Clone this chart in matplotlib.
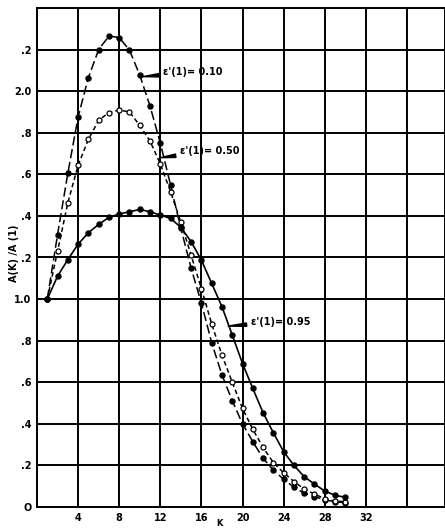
import matplotlib
matplotlib.use("Agg")
import matplotlib.pyplot as plt
import numpy as np

# K index and normalised amplitude A(K)/A(1) for the three emissivities
k = np.arange(1, 31)

a_010 = [1.00, 1.31, 1.605, 1.876, 2.065, 2.20, 2.265, 2.258, 2.197, 2.077,
         1.928, 1.75, 1.548, 1.34, 1.148, 0.98, 0.79, 0.635, 0.511, 0.40,
         0.314, 0.234, 0.178, 0.133, 0.095, 0.066, 0.05, 0.034, 0.026, 0.02]

a_050 = [1.00, 1.23, 1.463, 1.644, 1.768, 1.86, 1.897, 1.909, 1.90, 1.835,
         1.76, 1.65, 1.516, 1.37, 1.21, 1.05, 0.88, 0.73, 0.60, 0.474,
         0.373, 0.287, 0.213, 0.165, 0.122, 0.087, 0.062, 0.04, 0.028, 0.026]

a_095 = [1.00, 1.11, 1.19, 1.264, 1.319, 1.359, 1.393, 1.409, 1.42, 1.431,
         1.42, 1.404, 1.388, 1.345, 1.276, 1.187, 1.075, 0.963, 0.827, 0.69,
         0.57, 0.453, 0.357, 0.266, 0.20, 0.146, 0.11, 0.077, 0.056, 0.047]

labels = ["\u03b5'(1)= 0.10", "\u03b5'(1)= 0.50", "\u03b5'(1)= 0.95"]

xticks = [4, 8, 12, 16, 20, 24, 28, 32]
yticks = [0, 0.2, 0.4, 0.6, 0.8, 1.0, 1.2, 1.4, 1.6, 1.8, 2.0, 2.2]
ytick_labels = ["O", ".2", ".4", ".6", ".8", "1.0", ".2", ".4", ".6", ".8", "2.0", ".2"]

fig = plt.figure(figsize=(4.45, 5.29), dpi=100)
ax = fig.add_axes([37/445, 22/529, 1 - 37/445, 499/529])

ax.set_xlim(0, 39.7)
ax.set_ylim(0, 2.4)

# heavy hand-drawn style grid
for xv in np.arange(0, 40, 4):
    ax.axvline(xv, color="black", lw=1.4, zorder=1)
for yv in np.arange(0, 2.41, 0.2):
    ax.axhline(yv, color="black", lw=1.4, zorder=1)
for s in ax.spines.values():
    s.set_linewidth(1.4)

ax.plot(k, a_010, color="black", lw=1.1, ls=(0, (6, 2.5)),
        marker="o", ms=3.6, mfc="black", mec="black", zorder=3)
ax.plot(k, a_050, color="black", lw=1.1, ls=(0, (3, 2)),
        marker="o", ms=3.6, mfc="white", mec="black", mew=0.9, zorder=3)
ax.plot(k, a_095, color="black", lw=1.2, ls="-",
        marker="o", ms=3.6, mfc="black", mec="black", zorder=3)

ax.set_xticks(xticks)
ax.set_xticklabels([str(t) for t in xticks], fontsize=7, fontweight="bold")
ax.set_yticks(yticks)
ax.set_yticklabels(ytick_labels, fontsize=7, fontweight="bold")
ax.tick_params(length=0, pad=4)

fig.text(14/445, 1 - 253/529, "A(K) /A (1)", fontsize=7, fontweight="bold",
         rotation=90, ha="center", va="center")
fig.text(219/445, 1 - 524/529, "K", fontsize=6, fontweight="bold",
         ha="center", va="center")

# curve labels with wedge pointers
ann = dict(fontsize=7, fontweight="bold", va="center", ha="left",
           textcoords="data",
           arrowprops=dict(arrowstyle="wedge,tail_width=0.35", color="black",
                           shrinkA=1, shrinkB=0))
ax.annotate(labels[0], xy=(10.3, 2.07), xytext=(12.3, 2.09), **ann)
ax.annotate(labels[1], xy=(12.0, 1.68), xytext=(13.9, 1.71), **ann)
ax.annotate(labels[2], xy=(18.6, 0.87), xytext=(20.8, 0.89), **ann)

fig.savefig("out.png", dpi=100)
